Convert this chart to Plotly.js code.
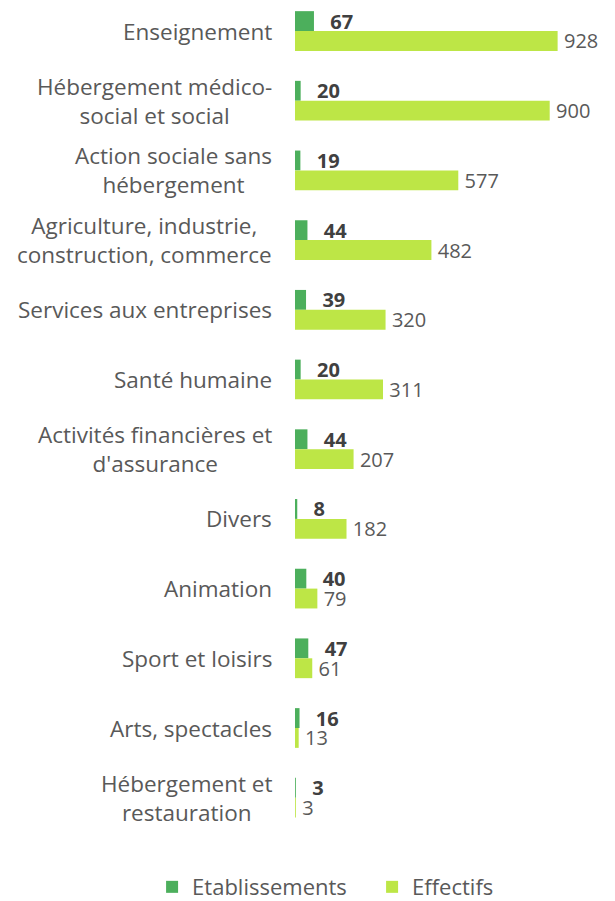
<!DOCTYPE html>
<html>
<head>
<meta charset="utf-8">
<script src="https://cdn.plot.ly/plotly-3.0.1.min.js"></script>
<style>html,body{margin:0;padding:0;background:#fff;}</style>
</head>
<body>
<div id="chart" style="width:615px;height:901px;"></div>
<script>
const categories = [
  "Enseignement",
  "Hébergement médico-<br>social et social",
  "Action sociale sans<br>hébergement",
  "Agriculture, industrie,<br>construction, commerce",
  "Services aux entreprises",
  "Santé humaine",
  "Activités financières et<br>d'assurance",
  "Divers",
  "Animation",
  "Sport et loisirs",
  "Arts, spectacles",
  "Hébergement et<br>restauration"
];
const etablissements = [67, 20, 19, 44, 39, 20, 44, 8, 40, 47, 16, 3];
const effectifs = [928, 900, 577, 482, 320, 311, 207, 182, 79, 61, 13, 3];
const seriesNames = ["Etablissements", "Effectifs"];

const FONT = "Open Sans, Lato, sans-serif";
const idx = categories.map((c, i) => i);

const traces = [
  {
    type: "bar", orientation: "h", name: seriesNames[0],
    y: idx, x: etablissements,
    marker: {color: "#4CAF5C"},
    text: etablissements.map(v => "\u2002\u2009<b>" + v + "</b>"),
    textposition: "outside", constraintext: "none", cliponaxis: false,
    textfont: {family: FONT, size: 20, color: "#404040"},
    hoverinfo: "x+name"
  },
  {
    type: "bar", orientation: "h", name: seriesNames[1],
    y: idx, x: effectifs,
    marker: {color: "#BDE646"},
    text: effectifs.map(v => "\u2009" + v),
    textposition: "outside", constraintext: "none", cliponaxis: false,
    textfont: {family: FONT, size: 20, color: "#595959"},
    hoverinfo: "x+name"
  }
];

const annotations = categories.map((c, i) => ({
  xref: "paper", yref: "y", x: 0, y: i, xanchor: "right", yanchor: "middle",
  xshift: -21, text: c, align: "center", showarrow: false,
  font: {family: FONT, size: 22.5, color: "#595959"}
}));

const layout = {
  width: 615, height: 901,
  margin: {l: 295, r: 37, t: 0, b: 61, autoexpand: false},
  paper_bgcolor: "#fff", plot_bgcolor: "#fff",
  barmode: "group", bargap: 0.43, bargroupgap: 0,
  xaxis: {range: [0, 1000], visible: false, fixedrange: true},
  yaxis: {range: [11.607, -0.445], showticklabels: false, showgrid: false,
          zeroline: false, showline: false, ticks: "", fixedrange: true},
  showlegend: true,
  legend: {orientation: "h", xref: "paper", yref: "paper",
           x: -0.505, xanchor: "left", y: -0.056, yanchor: "middle",
           font: {family: FONT, size: 22, color: "#595959"},
           entrywidth: 175, entrywidthmode: "pixels", tracegroupgap: 0},
  annotations: annotations,
  font: {family: FONT}
};

Plotly.newPlot("chart", traces, layout, {displayModeBar: false, staticPlot: true});
</script>
</body>
</html>
